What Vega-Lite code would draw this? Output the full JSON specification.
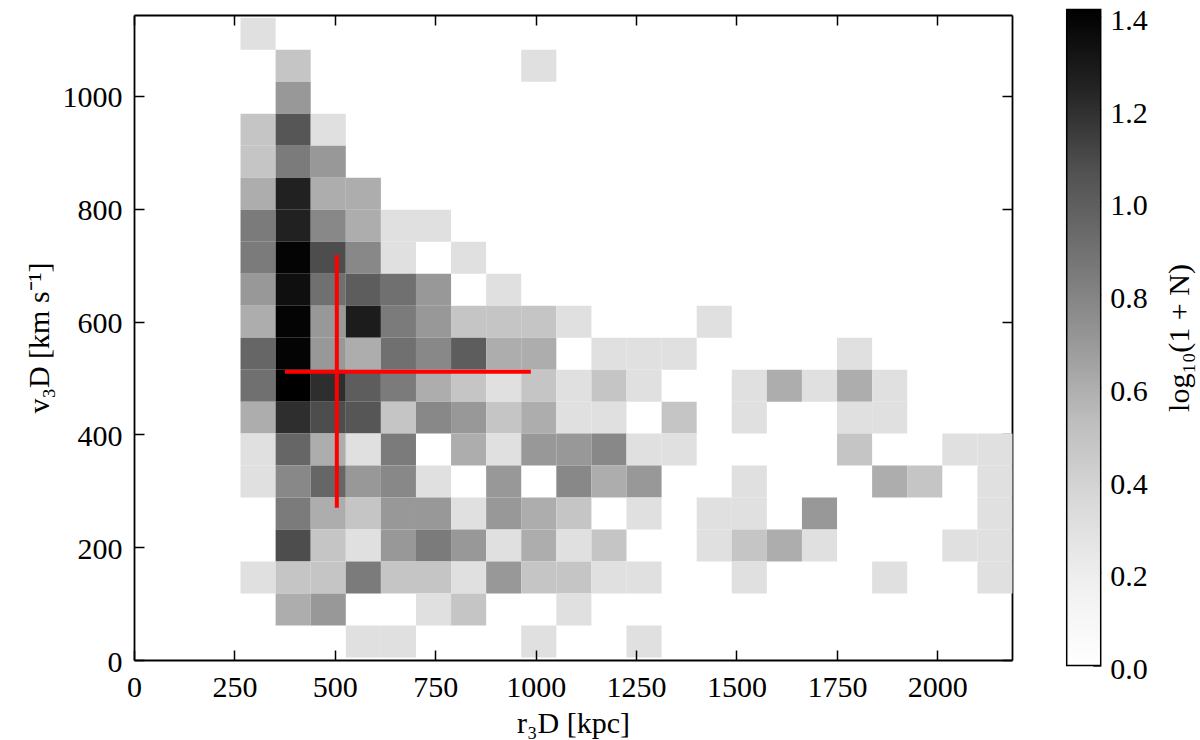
{
  "$schema": "https://vega.github.io/schema/vega-lite/v6.json",
  "autosize": {"type": "none"},
  "padding": {"left": 134, "top": 9.5, "right": 1066, "bottom": 730.5},
  "background": "white",
  "bounds": "flush",
  "spacing": 54.7,
  "center": true,
  "config": {
    "view": {"stroke": null},
    "font": "Liberation Serif",
    "axis": {
      "grid": false,
      "domainColor": "black",
      "domainWidth": 1.8,
      "tickColor": "black",
      "tickWidth": 1.5,
      "tickSize": -10,
      "labelFont": "Liberation Serif",
      "labelFontSize": 30,
      "labelColor": "black",
      "labelPadding": 22,
      "labelFlush": false,
      "titleFont": "Liberation Serif",
      "titleFontSize": 30,
      "titleFontWeight": "normal",
      "titleColor": "black"
    }
  },
  "datasets": {
    "hist": [
      {"r": 307.7, "v": 1111.2, "z": 0.301},
      {"r": 395.0, "v": 1054.4, "z": 0.477}, {"r": 1006.6, "v": 1054.4, "z": 0.301},
      {"r": 395.0, "v": 997.7, "z": 0.699},
      {"r": 307.7, "v": 941.0, "z": 0.477}, {"r": 395.0, "v": 941.0, "z": 1.041}, {"r": 482.4, "v": 941.0, "z": 0.301},
      {"r": 307.7, "v": 884.3, "z": 0.477}, {"r": 395.0, "v": 884.3, "z": 0.845}, {"r": 482.4, "v": 884.3, "z": 0.699},
      {"r": 307.7, "v": 827.6, "z": 0.602}, {"r": 395.0, "v": 827.6, "z": 1.255}, {"r": 482.4, "v": 827.6, "z": 0.602}, {"r": 569.8, "v": 827.6, "z": 0.602},
      {"r": 307.7, "v": 770.9, "z": 0.845}, {"r": 395.0, "v": 770.9, "z": 1.255}, {"r": 482.4, "v": 770.9, "z": 0.778}, {"r": 569.8, "v": 770.9, "z": 0.602}, {"r": 657.1, "v": 770.9, "z": 0.301}, {"r": 744.5, "v": 770.9, "z": 0.301},
      {"r": 307.7, "v": 714.2, "z": 0.845}, {"r": 395.0, "v": 714.2, "z": 1.398}, {"r": 482.4, "v": 714.2, "z": 1.079}, {"r": 569.8, "v": 714.2, "z": 0.778}, {"r": 657.1, "v": 714.2, "z": 0.301}, {"r": 831.9, "v": 714.2, "z": 0.301},
      {"r": 307.7, "v": 657.5, "z": 0.699}, {"r": 395.0, "v": 657.5, "z": 1.342}, {"r": 482.4, "v": 657.5, "z": 0.903}, {"r": 569.8, "v": 657.5, "z": 1.0}, {"r": 657.1, "v": 657.5, "z": 0.903}, {"r": 744.5, "v": 657.5, "z": 0.699}, {"r": 919.2, "v": 657.5, "z": 0.301},
      {"r": 307.7, "v": 600.8, "z": 0.602}, {"r": 395.0, "v": 600.8, "z": 1.398}, {"r": 482.4, "v": 600.8, "z": 0.699}, {"r": 569.8, "v": 600.8, "z": 1.279}, {"r": 657.1, "v": 600.8, "z": 0.845}, {"r": 744.5, "v": 600.8, "z": 0.699}, {"r": 831.9, "v": 600.8, "z": 0.477}, {"r": 919.2, "v": 600.8, "z": 0.477}, {"r": 1006.6, "v": 600.8, "z": 0.477}, {"r": 1093.9, "v": 600.8, "z": 0.301}, {"r": 1443.4, "v": 600.8, "z": 0.301},
      {"r": 307.7, "v": 544.1, "z": 0.954}, {"r": 395.0, "v": 544.1, "z": 1.398}, {"r": 482.4, "v": 544.1, "z": 0.699}, {"r": 569.8, "v": 544.1, "z": 0.602}, {"r": 657.1, "v": 544.1, "z": 0.903}, {"r": 744.5, "v": 544.1, "z": 0.778}, {"r": 831.9, "v": 544.1, "z": 1.0}, {"r": 919.2, "v": 544.1, "z": 0.602}, {"r": 1006.6, "v": 544.1, "z": 0.602}, {"r": 1181.3, "v": 544.1, "z": 0.301}, {"r": 1268.7, "v": 544.1, "z": 0.301}, {"r": 1356.0, "v": 544.1, "z": 0.301}, {"r": 1792.9, "v": 544.1, "z": 0.301},
      {"r": 307.7, "v": 487.3, "z": 0.903}, {"r": 395.0, "v": 487.3, "z": 1.415}, {"r": 482.4, "v": 487.3, "z": 1.204}, {"r": 569.8, "v": 487.3, "z": 1.0}, {"r": 657.1, "v": 487.3, "z": 0.845}, {"r": 744.5, "v": 487.3, "z": 0.602}, {"r": 831.9, "v": 487.3, "z": 0.477}, {"r": 919.2, "v": 487.3, "z": 0.301}, {"r": 1006.6, "v": 487.3, "z": 0.477}, {"r": 1093.9, "v": 487.3, "z": 0.301}, {"r": 1181.3, "v": 487.3, "z": 0.477}, {"r": 1268.7, "v": 487.3, "z": 0.301}, {"r": 1530.8, "v": 487.3, "z": 0.301}, {"r": 1618.1, "v": 487.3, "z": 0.602}, {"r": 1705.5, "v": 487.3, "z": 0.301}, {"r": 1792.9, "v": 487.3, "z": 0.602}, {"r": 1880.2, "v": 487.3, "z": 0.301},
      {"r": 307.7, "v": 430.6, "z": 0.602}, {"r": 395.0, "v": 430.6, "z": 1.204}, {"r": 482.4, "v": 430.6, "z": 1.079}, {"r": 569.8, "v": 430.6, "z": 1.041}, {"r": 657.1, "v": 430.6, "z": 0.477}, {"r": 744.5, "v": 430.6, "z": 0.778}, {"r": 831.9, "v": 430.6, "z": 0.699}, {"r": 919.2, "v": 430.6, "z": 0.477}, {"r": 1006.6, "v": 430.6, "z": 0.602}, {"r": 1093.9, "v": 430.6, "z": 0.301}, {"r": 1181.3, "v": 430.6, "z": 0.301}, {"r": 1356.0, "v": 430.6, "z": 0.477}, {"r": 1530.8, "v": 430.6, "z": 0.301}, {"r": 1792.9, "v": 430.6, "z": 0.301}, {"r": 1880.2, "v": 430.6, "z": 0.301},
      {"r": 307.7, "v": 373.9, "z": 0.301}, {"r": 395.0, "v": 373.9, "z": 0.954}, {"r": 482.4, "v": 373.9, "z": 0.602}, {"r": 569.8, "v": 373.9, "z": 0.301}, {"r": 657.1, "v": 373.9, "z": 0.845}, {"r": 831.9, "v": 373.9, "z": 0.602}, {"r": 919.2, "v": 373.9, "z": 0.301}, {"r": 1006.6, "v": 373.9, "z": 0.699}, {"r": 1093.9, "v": 373.9, "z": 0.699}, {"r": 1181.3, "v": 373.9, "z": 0.778}, {"r": 1268.7, "v": 373.9, "z": 0.301}, {"r": 1356.0, "v": 373.9, "z": 0.301}, {"r": 1792.9, "v": 373.9, "z": 0.477}, {"r": 2054.9, "v": 373.9, "z": 0.301}, {"r": 2142.3, "v": 373.9, "z": 0.301},
      {"r": 307.7, "v": 317.2, "z": 0.301}, {"r": 395.0, "v": 317.2, "z": 0.778}, {"r": 482.4, "v": 317.2, "z": 0.954}, {"r": 569.8, "v": 317.2, "z": 0.699}, {"r": 657.1, "v": 317.2, "z": 0.778}, {"r": 744.5, "v": 317.2, "z": 0.301}, {"r": 919.2, "v": 317.2, "z": 0.699}, {"r": 1093.9, "v": 317.2, "z": 0.778}, {"r": 1181.3, "v": 317.2, "z": 0.602}, {"r": 1268.7, "v": 317.2, "z": 0.699}, {"r": 1530.8, "v": 317.2, "z": 0.301}, {"r": 1880.2, "v": 317.2, "z": 0.602}, {"r": 1967.6, "v": 317.2, "z": 0.477}, {"r": 2142.3, "v": 317.2, "z": 0.301},
      {"r": 395.0, "v": 260.5, "z": 0.845}, {"r": 482.4, "v": 260.5, "z": 0.602}, {"r": 569.8, "v": 260.5, "z": 0.477}, {"r": 657.1, "v": 260.5, "z": 0.699}, {"r": 744.5, "v": 260.5, "z": 0.699}, {"r": 831.9, "v": 260.5, "z": 0.301}, {"r": 919.2, "v": 260.5, "z": 0.699}, {"r": 1006.6, "v": 260.5, "z": 0.602}, {"r": 1093.9, "v": 260.5, "z": 0.477}, {"r": 1268.7, "v": 260.5, "z": 0.301}, {"r": 1443.4, "v": 260.5, "z": 0.301}, {"r": 1530.8, "v": 260.5, "z": 0.301}, {"r": 1705.5, "v": 260.5, "z": 0.699}, {"r": 2142.3, "v": 260.5, "z": 0.301},
      {"r": 395.0, "v": 203.8, "z": 1.079}, {"r": 482.4, "v": 203.8, "z": 0.477}, {"r": 569.8, "v": 203.8, "z": 0.301}, {"r": 657.1, "v": 203.8, "z": 0.699}, {"r": 744.5, "v": 203.8, "z": 0.845}, {"r": 831.9, "v": 203.8, "z": 0.699}, {"r": 919.2, "v": 203.8, "z": 0.301}, {"r": 1006.6, "v": 203.8, "z": 0.602}, {"r": 1093.9, "v": 203.8, "z": 0.301}, {"r": 1181.3, "v": 203.8, "z": 0.477}, {"r": 1443.4, "v": 203.8, "z": 0.301}, {"r": 1530.8, "v": 203.8, "z": 0.477}, {"r": 1618.1, "v": 203.8, "z": 0.602}, {"r": 1705.5, "v": 203.8, "z": 0.301}, {"r": 2054.9, "v": 203.8, "z": 0.301}, {"r": 2142.3, "v": 203.8, "z": 0.301},
      {"r": 307.7, "v": 147.1, "z": 0.301}, {"r": 395.0, "v": 147.1, "z": 0.477}, {"r": 482.4, "v": 147.1, "z": 0.477}, {"r": 569.8, "v": 147.1, "z": 0.845}, {"r": 657.1, "v": 147.1, "z": 0.477}, {"r": 744.5, "v": 147.1, "z": 0.477}, {"r": 831.9, "v": 147.1, "z": 0.301}, {"r": 919.2, "v": 147.1, "z": 0.699}, {"r": 1006.6, "v": 147.1, "z": 0.477}, {"r": 1093.9, "v": 147.1, "z": 0.477}, {"r": 1181.3, "v": 147.1, "z": 0.301}, {"r": 1268.7, "v": 147.1, "z": 0.301}, {"r": 1530.8, "v": 147.1, "z": 0.301}, {"r": 1880.2, "v": 147.1, "z": 0.301}, {"r": 2142.3, "v": 147.1, "z": 0.301},
      {"r": 395.0, "v": 90.4, "z": 0.602}, {"r": 482.4, "v": 90.4, "z": 0.699}, {"r": 744.5, "v": 90.4, "z": 0.301}, {"r": 831.9, "v": 90.4, "z": 0.477}, {"r": 1093.9, "v": 90.4, "z": 0.301},
      {"r": 569.8, "v": 33.7, "z": 0.301}, {"r": 657.1, "v": 33.7, "z": 0.301}, {"r": 1006.6, "v": 33.7, "z": 0.301}, {"r": 1268.7, "v": 33.7, "z": 0.301}
    ],
    "cross": [
      {"r": 505, "rlo": 376, "rhi": 988, "v": 511, "vlo": 270, "vhi": 718}
    ],
    "cbar": [
      {"lo": 0, "hi": 1.415}
    ]
  },
  "hconcat": [
    {
      "width": 878,
      "height": 645,
      "layer": [
        {
          "data": {"name": "hist"},
          "mark": {"type": "rect", "binSpacing": 0},
          "encoding": {
            "x": {
              "field": "r",
              "type": "quantitative",
              "bin": {"extent": [264, 2186], "step": 87.36, "nice": false},
              "scale": {"domain": [0, 2186], "nice": false, "zero": false},
              "axis": {"orient": "bottom", "values": [0, 250, 500, 750, 1000, 1250, 1500, 1750, 2000], "format": "d", "title": "r₃D [kpc]", "titlePadding": 6}
            },
            "y": {
              "field": "v",
              "type": "quantitative",
              "bin": {"extent": [5.3, 1139.5], "step": 56.71, "nice": false},
              "scale": {"domain": [0, 1143.6], "nice": false, "zero": false},
              "axis": {"orient": "left", "values": [0, 200, 400, 600, 800, 1000], "format": "d", "title": "v₃D [km s⁻¹]", "titlePadding": 8, "labelBaseline": "line-top", "labelLineHeight": 4.6}
            },
            "color": {
              "field": "z",
              "type": "quantitative",
              "scale": {
                "domain": [0, 0.1769, 0.3538, 0.5306, 0.7075, 0.8844, 1.0613, 1.2381, 1.415],
                "range": ["#ffffff", "#f0f0f0", "#d9d9d9", "#bdbdbd", "#969696", "#737373", "#525252", "#252525", "#000000"],
                "interpolate": "rgb"
              },
              "legend": null
            }
          }
        },
        {
          "data": {"name": "cross"},
          "mark": {"type": "rule", "color": "#ff0000", "strokeWidth": 4},
          "encoding": {
            "x": {"field": "rlo", "type": "quantitative", "axis": {"orient": "top", "labels": false, "title": null, "values": [0, 250, 500, 750, 1000, 1250, 1500, 1750, 2000]}},
            "x2": {"field": "rhi"},
            "y": {"field": "v", "type": "quantitative", "axis": null}
          }
        },
        {
          "data": {"name": "cross"},
          "mark": {"type": "rule", "color": "#ff0000", "strokeWidth": 4},
          "encoding": {
            "x": {"field": "r", "type": "quantitative", "axis": null},
            "y": {"field": "vlo", "type": "quantitative", "axis": {"orient": "right", "labels": false, "title": null, "values": [0, 200, 400, 600, 800, 1000]}},
            "y2": {"field": "vhi"}
          }
        }
      ]
    },
    {
      "width": 34,
      "height": 656,
      "data": {"name": "cbar"},
      "mark": {
        "type": "rect",
        "stroke": "black",
        "strokeWidth": 1.5,
        "fill": {
          "gradient": "linear",
          "x1": 0, "y1": 1, "x2": 0, "y2": 0,
          "stops": [
            {"offset": 0, "color": "#ffffff"},
            {"offset": 0.125, "color": "#f0f0f0"},
            {"offset": 0.25, "color": "#d9d9d9"},
            {"offset": 0.375, "color": "#bdbdbd"},
            {"offset": 0.5, "color": "#969696"},
            {"offset": 0.625, "color": "#737373"},
            {"offset": 0.75, "color": "#525252"},
            {"offset": 0.875, "color": "#252525"},
            {"offset": 1, "color": "#000000"}
          ]
        }
      },
      "encoding": {
        "y": {
          "field": "lo",
          "type": "quantitative",
          "scale": {"domain": [0, 1.415], "nice": false, "zero": false},
          "axis": {
            "orient": "right",
            "values": [0, 0.2, 0.4, 0.6, 0.8, 1.0, 1.2, 1.4],
            "format": ".1f",
            "domain": false,
            "tickSize": -8,
            "tickWidth": 1.3,
            "labelPadding": 17,
            "labelBaseline": "line-top",
            "labelLineHeight": 8,
            "title": "log₁₀(1 + N)",
            "titleAngle": 270,
            "titleX": 79,
            "titleY": 328,
            "titleAlign": "center",
            "titleBaseline": "middle"
          }
        },
        "y2": {"field": "hi"}
      }
    }
  ]
}
